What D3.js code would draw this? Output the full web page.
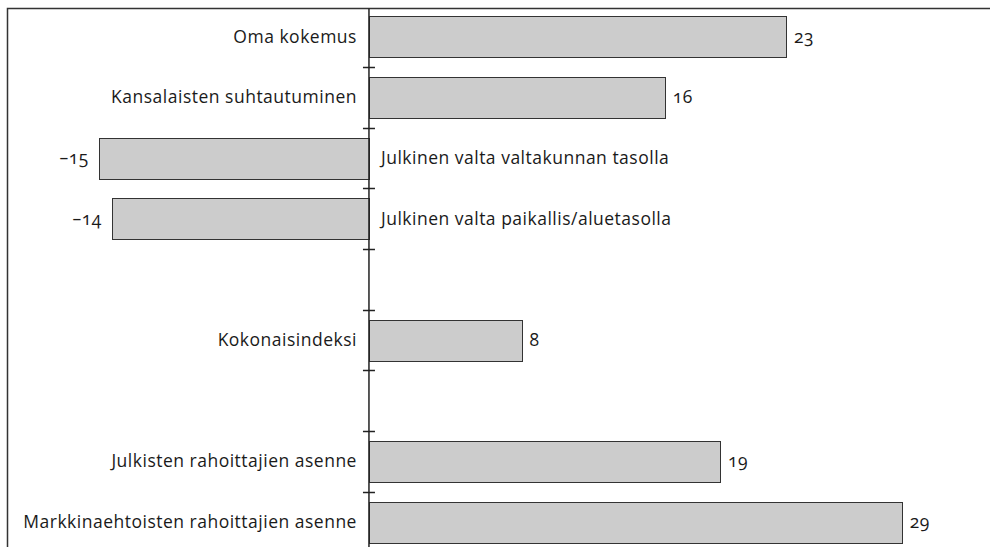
<!DOCTYPE html>
<html>
<head>
<meta charset="utf-8">
<script src="https://cdn.jsdelivr.net/npm/d3@7"></script>
<style>
  body { margin: 0; background: #fff; }
  svg { display: block; }
  .chart__text { font-family: "Open Sans", sans-serif; font-size: 17.5px; letter-spacing: 0.5px; fill: #1a1a1a; font-variant-numeric: oldstyle-nums; }
  .chart__bar { fill: #cccccc; stroke: #333; stroke-width: 1; }
  .chart__axis { stroke: #222; stroke-width: 1.5; }
  .chart__frame { fill: none; stroke: #333; stroke-width: 1.5; }
</style>
</head>
<body>
<div id="chart"></div>
<script>
// Categories (top to bottom), blank slots keep the gaps in the original
const categories = [
  "Oma kokemus",
  "Kansalaisten suhtautuminen",
  "Julkinen valta valtakunnan tasolla",
  "Julkinen valta paikallis/aluetasolla",
  " ",
  "Kokonaisindeksi",
  "  ",
  "Julkisten rahoittajien asenne",
  "Markkinaehtoisten rahoittajien asenne"
];

// Index values
const values = [22.7, 16.1, -14.7, -14.0, null, 8.3, null, 19.1, 29.0];

// Printed value labels
const valueLabels = ["23", "16", "\u201315", "\u201314", null, "8", null, "19", "29"];

const W = 990, H = 547;
const frame = { left: 7.5, top: 8.5 };

const data = categories.map((c, i) => ({ cat: c, value: values[i], label: valueLabels[i] }));

const svg = d3.select("#chart")
  .append("svg")
  .attr("width", W)
  .attr("height", H);

// x scale: zero sits at the vertical axis
const x = d3.scaleLinear()
  .domain([-19.7, 33.8])
  .range([7, 990]);

const pad = 0.33;
const y = d3.scaleBand()
  .domain(categories)
  .range([6.3, 552.3])
  .paddingInner(pad)
  .paddingOuter(pad / 2);

const x0 = x(0);

// Frame (right and bottom edges fall outside the picture)
svg.append("rect")
  .attr("class", "chart__frame")
  .attr("x", frame.left)
  .attr("y", frame.top)
  .attr("width", 1100)
  .attr("height", 700);

// Bars
const rows = data.filter(d => d.value !== null);

svg.selectAll("rect.chart__bar")
  .data(rows)
  .enter()
  .append("rect")
  .attr("class", "chart__bar")
  .attr("x", d => Math.round(Math.min(x0, x(d.value))) + 0.5)
  .attr("y", d => Math.round(y(d.cat)) + 0.5)
  .attr("width", d => Math.round(Math.abs(x(d.value) - x0)))
  .attr("height", Math.round(y.bandwidth()));

// Vertical axis
svg.append("line")
  .attr("class", "chart__axis")
  .attr("x1", x0).attr("x2", x0)
  .attr("y1", frame.top).attr("y2", H + 10);

// Ticks at the band boundaries
const bounds = categories.map(c => y(c) - y.step() * pad / 2).slice(1);
svg.selectAll("line.chart__tick")
  .data(bounds)
  .enter()
  .append("line")
  .attr("class", "chart__axis")
  .attr("x1", x0 - 6).attr("x2", x0 + 6)
  .attr("y1", d => Math.round(d) + 0.5)
  .attr("y2", d => Math.round(d) + 0.5);

// Category labels: left of axis for positive bars, right for negative
svg.selectAll("text.chart__cat")
  .data(rows)
  .enter()
  .append("text")
  .attr("class", "chart__text")
  .attr("x", d => d.value >= 0 ? x0 - 12 : x0 + 12)
  .attr("y", d => y(d.cat) + y.bandwidth() / 2)
  .attr("dy", "0.35em")
  .style("text-anchor", d => d.value >= 0 ? "end" : "start")
  .text(d => d.cat);

// Value labels at bar ends
svg.selectAll("text.chart__val")
  .data(rows)
  .enter()
  .append("text")
  .attr("class", "chart__text")
  .attr("x", d => d.value >= 0 ? x(d.value) + 8 : x(d.value) - 10)
  .attr("y", d => y(d.cat) + y.bandwidth() / 2)
  .attr("dy", "0.35em")
  .style("text-anchor", d => d.value >= 0 ? "start" : "end")
  .text(d => d.label);
</script>
</body>
</html>
